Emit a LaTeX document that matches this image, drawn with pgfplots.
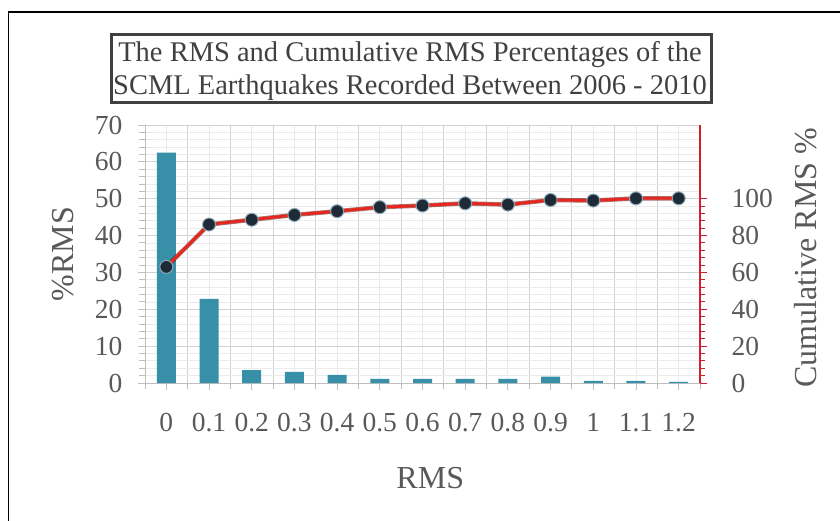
\documentclass[border=0pt]{standalone}
\usepackage{pgfplots}
\pgfplotsset{compat=1.18}
\usepackage{fontspec}
\setmainfont{Liberation Serif}

\definecolor{barteal}{HTML}{3790A8}
\definecolor{linered}{HTML}{E8261E}
\definecolor{lineshadow}{HTML}{6A1A16}
\definecolor{markdark}{HTML}{1E2B37}
\definecolor{markrim}{HTML}{8FA9B6}
\definecolor{axisgray}{HTML}{BFBFBF}
\definecolor{axisred}{HTML}{D0202A}
\definecolor{griddark}{HTML}{D2D2D2}
\definecolor{gridlight}{HTML}{EBEBEB}
\definecolor{labelgray}{HTML}{595959}
\definecolor{titlegray}{HTML}{404040}

\begin{document}
\begin{tikzpicture}[x=1pt,y=1pt]
\path[use as bounding box] (0pt,0pt) rectangle (840pt,-521pt);

% outer frame (top and left edges)
\draw[black, line width=1.3pt] (8.5pt,-521pt) -- (8.5pt,-12pt) -- (840pt,-12pt);

% title box
\draw[titlegray, line width=3pt] (111.5pt,-35pt) rectangle (711.5pt,-102.5pt);
\node[anchor=base, text=titlegray, font=\fontsize{28.5}{28.5}\selectfont, inner sep=0pt]
  at (410pt,-62pt) {The RMS and Cumulative RMS Percentages of the};
\node[anchor=base, text=titlegray, font=\fontsize{28.5}{28.5}\selectfont, inner sep=0pt]
  at (410pt,-95pt) {SCML Earthquakes Recorded Between 2006 - 2010};

% percentage of events per RMS class (left axis)
\begin{axis}[
  at={(145pt,-383pt)}, anchor=south west,
  scale only axis, width=555pt, height=258pt,
  xmin=-0.5, xmax=12.5, ymin=0, ymax=70,
  axis y line*=left, axis x line*=bottom,
  axis line style={draw=axisgray, line width=1pt, -},
  xtick={0,...,12},
  xticklabels={0,0.1,0.2,0.3,0.4,0.5,0.6,0.7,0.8,0.9,1,1.1,1.2},
  minor xtick={-0.5,0.5,...,12.5},
  ytick={0,10,...,70},
  minor ytick={0,2,...,70},
  grid=both,
  major x grid style={draw=gridlight, line width=0.8pt},
  minor x grid style={draw=griddark, line width=0.9pt},
  major y grid style={draw=griddark, line width=0.9pt},
  minor y grid style={draw=gridlight, line width=0.8pt},
  tick align=outside,
  major tick length=7pt, minor tick length=6pt,
  tick style={draw=axisgray, line width=0.9pt},
  tick label style={font=\fontsize{27.5}{27.5}\selectfont, text=labelgray},
  /pgf/number format/assume math mode=true,
  xticklabel style={yshift=-20pt},
  yticklabel style={xshift=-12pt},
  xlabel={RMS},
  ylabel={\%RMS},
  label style={font=\fontsize{32}{32}\selectfont, text=labelgray},
  xlabel style={at={(axis description cs:0.514,-0.368)}, anchor=center},
  ylabel style={at={(axis description cs:-0.148,0.5)}, anchor=center, rotate=0},
]
\addplot[ybar, bar width=19pt, fill=barteal, draw=none] coordinates {
  (0,62.5) (1,22.8) (2,3.5) (3,3.0) (4,2.2) (5,1.1) (6,1.1)
  (7,1.1) (8,1.1) (9,1.7) (10,0.6) (11,0.6) (12,0.3)
};
\end{axis}

% cumulative percentage (right axis)
\begin{axis}[
  at={(145pt,-383pt)}, anchor=south west,
  scale only axis, width=555pt, height=258pt,
  xmin=-0.5, xmax=12.5, ymin=0, ymax=140,
  axis x line=none, axis y line*=right,
  y axis line style={draw=axisred, line width=1.3pt, -},
  ytick={0,20,...,100},
  minor ytick={0,4,...,100},
  tick align=outside,
  major tick length=7pt, minor tick length=5pt,
  tick style={draw=axisred, line width=1pt},
  tick label style={font=\fontsize{27.5}{27.5}\selectfont, text=labelgray},
  /pgf/number format/assume math mode=true,
  yticklabel style={xshift=21pt},
  ylabel={Cumulative RMS \%},
  ylabel style={font=\fontsize{32}{32}\selectfont, text=labelgray,
    at={(axis description cs:1.19,0.485)}, anchor=center, rotate=0},
]
\addplot[lineshadow, line width=4.4pt, opacity=0.6, no markers] coordinates {
  (0,63) (1,86) (2,88.6) (3,91.2) (4,93.2) (5,95.4) (6,96.3)
  (7,97.5) (8,96.8) (9,99.3) (10,99.0) (11,100.2) (12,100.2)
};
\addplot[linered, line width=2.8pt, mark=*, mark size=6.5pt,
  mark options={fill=markdark, draw=markrim, line width=1pt}] coordinates {
  (0,63) (1,86) (2,88.6) (3,91.2) (4,93.2) (5,95.4) (6,96.3)
  (7,97.5) (8,96.8) (9,99.3) (10,99.0) (11,100.2) (12,100.2)
};
\end{axis}
\end{tikzpicture}
\end{document}
